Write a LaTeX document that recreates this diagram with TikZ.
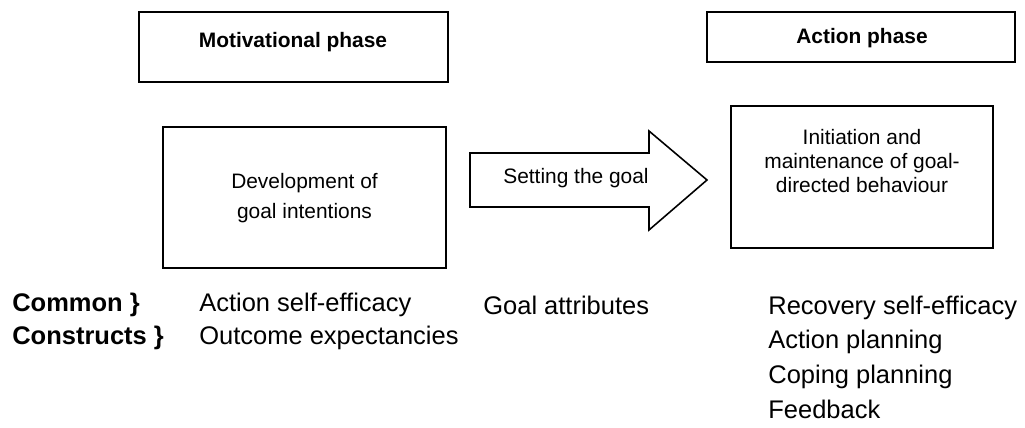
\documentclass[tikz,border=0pt]{standalone}
\usepackage{fontspec}
\setmainfont{Liberation Sans}
\usepackage{tkz-euclide}

\tikzset{
  phasetitle/.style={inner sep=0pt, font=\fontsize{11.9}{14}\selectfont\bfseries},
  boxtext/.style={inner sep=0pt, align=center, font=\fontsize{11.9}{13.6}\selectfont},
  listtext/.style={inner sep=0pt, align=left, anchor=west, font=\fontsize{14.5}{19.5}\selectfont},
  boxline/.style={line width=1.2pt},
}

\begin{document}
\begin{tikzpicture}
\useasboundingbox (0,0) rectangle (20.5,8.54);
\tkzDefPoints{2.78/8.30/M, 8.96/6.90/N, 14.14/8.30/P, 20.30/7.30/Q,
  3.26/6.00/D, 8.92/3.18/E, 14.62/6.42/I, 19.86/3.58/J}

% phase boxes
\draw[boxline] (M) rectangle (N);
\draw[boxline] (P) rectangle (Q);
\node[phasetitle] (motiv) at (5.86,7.70) {Motivational phase};
\node[phasetitle] (action) at (17.24,7.78) {Action phase};

% the two stages
\draw[boxline] (D) rectangle (E);
\draw[boxline] (I) rectangle (J);
\node[boxtext, font=\fontsize{11.9}{16.8}\selectfont] (devel) at (6.09,4.58)
  {Development of\\goal intentions};
\node[boxtext] (initiate) at (17.24,5.32)
  {Initiation and\\maintenance of goal-\\directed behaviour};

% big arrow between them
\tkzDefPoints{9.40/5.48/A1, 12.98/5.48/A2, 12.98/5.92/A3, 14.14/4.94/A4,
  12.98/3.94/A5, 12.98/4.40/A6, 9.40/4.40/A7}
\draw[line width=0.9pt, line join=miter] (A1) -- (A2) -- (A3) -- (A4) -- (A5) -- (A6) -- (A7) -- cycle;
\node[boxtext] (setgoal) at (11.52,4.98) {Setting the goal};

% constructs underneath
\node[listtext, font=\fontsize{14.5}{18.7}\selectfont\bfseries] (common) at (0.24,2.11)
  {Common \}\\Constructs \}};
\node[listtext, font=\fontsize{14.5}{18.7}\selectfont] (motivlist) at (3.98,2.11)
  {Action self-efficacy\\Outcome expectancies};
\node[listtext] (goalattr) at (9.66,2.44) {Goal attributes};
\node[listtext, font=\fontsize{14.5}{19.7}\selectfont] (actionlist) at (15.36,1.40)
  {Recovery self-efficacy\\Action planning\\Coping planning\\Feedback};
\end{tikzpicture}
\end{document}
